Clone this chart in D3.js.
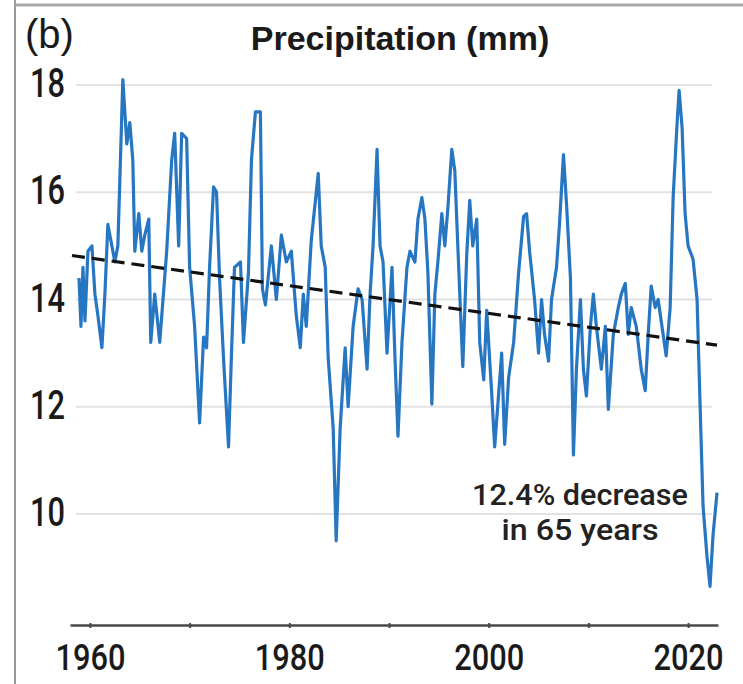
<!DOCTYPE html>
<html>
<head>
<meta charset="utf-8">
<script src="https://cdn.jsdelivr.net/npm/d3@7"></script>
<style>
body { margin: 0; background: #fff; }
</style>
</head>
<body>
<svg id="chart" width="743" height="684"></svg>
<script>
// values
var years = [
  1958.9, 1959.1, 1959.3, 1959.5, 1959.8, 1960.2, 1960.5, 1960.8, 1961.2, 1961.5,
  1961.8, 1962.2, 1962.5, 1962.8, 1963.3, 1963.7, 1964.0, 1964.3, 1964.5, 1964.9,
  1965.2, 1965.5, 1965.9, 1966.1, 1966.5, 1967.0, 1967.7, 1968.2, 1968.5, 1968.9,
  1969.2, 1969.7, 1970.0, 1970.5, 1971.0, 1971.4, 1971.7, 1972.0, 1972.4, 1972.7,
  1973.0, 1973.4, 1973.9, 1974.2, 1974.5, 1975.1, 1975.4, 1975.9, 1976.2, 1976.6,
  1977.1, 1977.3, 1977.6, 1978.2, 1978.7, 1979.2, 1979.7, 1980.2, 1980.7, 1981.1,
  1981.4, 1981.7, 1982.2, 1982.9, 1983.2, 1983.6, 1983.9, 1984.4, 1984.7, 1985.1,
  1985.6, 1985.9, 1986.4, 1986.9, 1987.3, 1987.8, 1988.1, 1988.4, 1988.8, 1989.1,
  1989.4, 1989.8, 1990.3, 1990.6, 1990.9, 1991.3, 1991.8, 1992.1, 1992.6, 1992.9,
  1993.3, 1993.6, 1993.9, 1994.3, 1994.6, 1994.9, 1995.3, 1995.6, 1995.9, 1996.3,
  1996.6, 1996.9, 1997.4, 1997.8, 1998.1, 1998.4, 1998.8, 1999.1, 1999.5, 1999.8,
  2000.3, 2000.6, 2001.0, 2001.3, 2001.6, 2002.0, 2002.5, 2003.0, 2003.5, 2003.8,
  2004.1, 2004.6, 2005.0, 2005.3, 2005.6, 2006.0, 2006.3, 2006.8, 2007.1, 2007.5,
  2007.8, 2008.2, 2008.5, 2008.8, 2009.2, 2009.5, 2009.8, 2010.2, 2010.5, 2010.8,
  2011.3, 2011.7, 2012.0, 2012.5, 2013.0, 2013.3, 2013.7, 2014.0, 2014.3, 2014.8,
  2015.3, 2015.7, 2016.0, 2016.3, 2016.7, 2017.0, 2017.3, 2017.8, 2018.2, 2018.5,
  2018.9, 2019.1, 2019.4, 2019.7, 2020.0, 2020.5, 2020.9, 2021.2, 2021.5, 2021.9,
  2022.2, 2022.5, 2022.9
];
var precip = [
  14.4, 13.5, 14.6, 13.6, 14.9, 15.0, 14.1, 13.7, 13.1, 14.1,
  15.4, 15.0, 14.7, 15.0, 18.1, 16.9, 17.3, 16.6, 14.9, 15.6,
  14.9, 15.2, 15.5, 13.2, 14.1, 13.2, 14.9, 16.6, 17.1, 15.0,
  17.1, 17.0, 14.6, 13.5, 11.7, 13.3, 13.1, 14.6, 16.1, 16.0,
  14.4, 12.9, 11.25, 13.0, 14.6, 14.7, 13.2, 14.5, 16.6, 17.5,
  17.5, 14.2, 13.9, 15.0, 14.0, 15.2, 14.7, 14.9, 13.7, 13.1,
  14.1, 13.5, 15.1, 16.35, 15.0, 14.6, 12.9, 11.6, 9.5, 11.6,
  13.1, 12.0, 13.5, 14.2, 14.0, 12.7, 14.1, 15.0, 16.8, 15.0,
  14.7, 13.0, 14.6, 12.9, 11.45, 13.2, 14.6, 14.9, 14.7, 15.5,
  15.9, 15.5, 14.5, 12.05, 14.1, 14.7, 15.6, 15.0, 15.7, 16.8,
  16.4, 15.0, 12.75, 14.85, 15.85, 15.0, 15.5, 13.2, 12.5, 13.8,
  12.25, 11.25, 12.25, 13.0, 11.3, 12.55, 13.2, 14.5, 15.55, 15.6,
  14.9, 14.0, 13.0, 14.0, 13.35, 12.85, 14.0, 14.6, 15.4, 16.7,
  15.8, 14.4, 11.1, 12.7, 14.0, 12.7, 12.2, 13.5, 14.1, 13.5,
  12.7, 13.5, 11.95, 13.35, 13.85, 14.1, 14.3, 13.35, 13.85, 13.5,
  12.7, 12.3, 13.35, 14.25, 13.85, 14.0, 13.6, 12.95, 13.85, 15.9,
  17.3, 17.9, 17.2, 15.6, 15.0, 14.75, 14.0, 12.05, 10.15, 9.2,
  8.65, 9.6, 10.4
];
var trendYears = [1958.2, 2022.9];
var trendValues = [14.82, 13.15];
var yTicks = [10, 12, 14, 16, 18];
var xTicks = [1960, 1970, 1980, 1990, 2000, 2010, 2020];
var xLabels = [1960, 1980, 2000, 2020];

var condensed = "Roboto, 'DejaVu Sans', sans-serif";

function drawChart() {
    var svg = d3.select("#chart");

    var xScale = d3.scaleLinear().domain([1958, 2023]).range([70, 718]);
    var yScale = d3.scaleLinear().domain([10, 18]).range([514, 85]);

    // panel frame
    svg.append("line")
       .attr("x1", 15).attr("y1", 0).attr("x2", 15).attr("y2", 684)
       .style("stroke", "#9a9a9a").style("stroke-width", 2);
    svg.append("line")
       .attr("x1", 15).attr("y1", 5).attr("x2", 743).attr("y2", 5)
       .style("stroke", "#a8a8a8").style("stroke-width", 3);

    // horizontal grid
    svg.selectAll(".grid")
       .data(yTicks)
       .enter().append("line")
       .attr("class", "grid")
       .attr("x1", 76)
       .attr("x2", 712)
       .attr("y1", function(d) { return yScale(d); })
       .attr("y2", function(d) { return yScale(d); })
       .style("stroke", "#e2e2e2")
       .style("stroke-width", 2);

    // y labels, no axis line
    svg.selectAll(".ylab")
       .data(yTicks)
       .enter().append("text")
       .attr("class", "ylab")
       .attr("x", 30)
       .attr("y", function(d) { return yScale(d) + 12; })
       .attr("textLength", 35)
       .attr("lengthAdjust", "spacingAndGlyphs")
       .style("font-family", condensed)
       .style("font-size", "40px")
       .style("font-weight", 500)
       .style("fill", "#1a1a1a")
       .text(function(d) { return d; });

    // x axis
    var xAxis = svg.append("g")
       .attr("transform", "translate(0,625)")
       .call(d3.axisBottom(xScale)
           .tickValues(xTicks)
           .tickSize(4)
           .tickSizeOuter(0)
           .tickPadding(14)
           .tickFormat(function(d) { return xLabels.indexOf(d) >= 0 ? d : ""; }));
    xAxis.select(".domain").style("stroke", "#4a4a4a").style("stroke-width", 2.5);
    xAxis.selectAll(".tick line").style("stroke", "#4a4a4a").style("stroke-width", 2)
         .attr("y1", -2).attr("y2", 3);
    xAxis.selectAll(".tick text")
         .filter(function(d) { return xLabels.indexOf(d) >= 0; })
         .attr("textLength", 70)
         .attr("lengthAdjust", "spacingAndGlyphs")
         .style("font-family", condensed)
         .style("font-size", "37px")
         .style("font-weight", 500)
         .style("fill", "#1a1a1a")
         .attr("dy", "0.72em");

    // precipitation series
    var line = d3.line()
        .x(function(d, i) { return xScale(years[i]); })
        .y(function(d) { return yScale(d); });

    svg.append("path")
       .datum(precip)
       .attr("d", line)
       .style("fill", "none")
       .style("stroke", "#2776c2")
       .style("stroke-width", 3.2)
       .style("stroke-linejoin", "round");

    // linear trend
    svg.append("line")
       .attr("x1", xScale(trendYears[0]))
       .attr("y1", yScale(trendValues[0]))
       .attr("x2", xScale(trendYears[1]))
       .attr("y2", yScale(trendValues[1]))
       .style("stroke", "#111")
       .style("stroke-width", 3.2)
       .style("stroke-dasharray", "13,7");

    // titles and note
    svg.append("text")
       .attr("x", 25).attr("y", 48)
       .style("font-family", "'Liberation Sans', Arial, sans-serif")
       .style("font-size", "40px")
       .style("fill", "#1a1a1a")
       .text("(b)");

    svg.append("text")
       .attr("x", 400).attr("y", 50)
       .attr("text-anchor", "middle")
       .style("font-family", "'Liberation Sans', Arial, sans-serif")
       .style("font-size", "34px")
       .style("font-weight", "bold")
       .style("fill", "#1a1a1a")
       .text("Precipitation (mm)");

    svg.append("text")
       .attr("x", 580).attr("y", 505)
       .attr("text-anchor", "middle")
       .attr("textLength", 216)
       .attr("lengthAdjust", "spacingAndGlyphs")
       .style("font-family", condensed)
       .style("font-size", "30px")
       .style("font-weight", 500)
       .style("fill", "#222")
       .text("12.4% decrease");
    svg.append("text")
       .attr("x", 580).attr("y", 540)
       .attr("text-anchor", "middle")
       .attr("textLength", 157)
       .attr("lengthAdjust", "spacingAndGlyphs")
       .style("font-family", condensed)
       .style("font-size", "30px")
       .style("font-weight", 500)
       .style("fill", "#222")
       .text("in 65 years");
}

drawChart();
</script>
</body>
</html>
